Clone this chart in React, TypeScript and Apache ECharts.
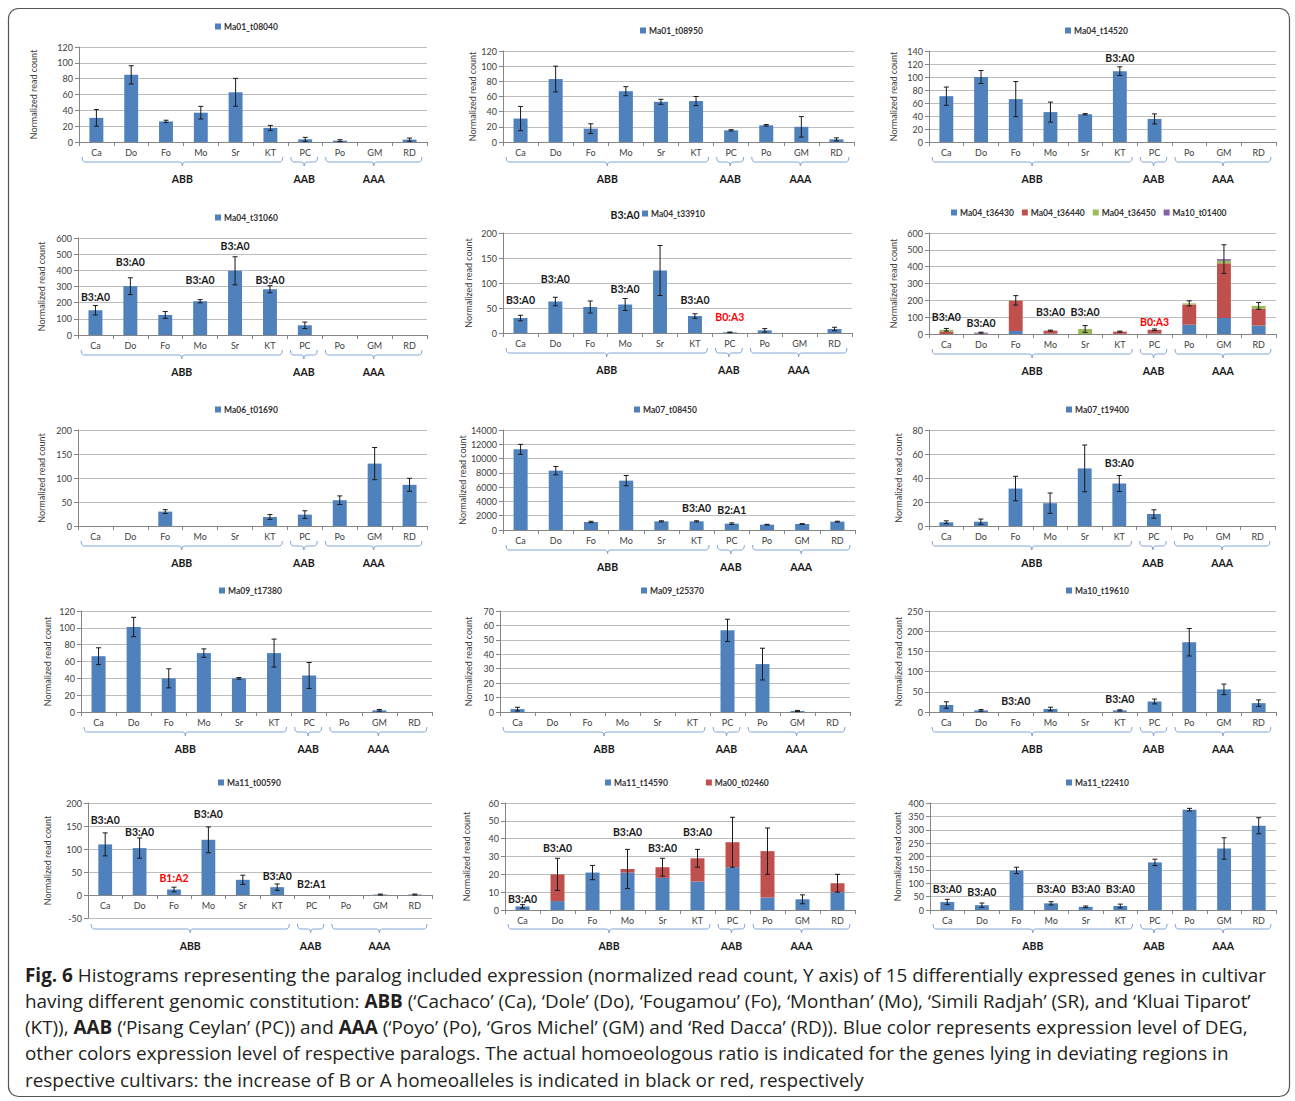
import React, { useEffect, useRef } from "react";
import * as echarts from "echarts";

// Cultivars on every x axis and their genomic groups
const cultivars = ["Ca", "Do", "Fo", "Mo", "Sr", "KT", "PC", "Po", "GM", "RD"];
const genomeGroups = [
  { name: "ABB", from: 0, to: 5 },
  { name: "AAB", from: 6, to: 6 },
  { name: "AAA", from: 7, to: 9 },
];
const yTitle = "Normalized read count";

// Mean normalized read counts and their error (±) per cultivar
const ma01_t08040 = [30.5, 84.8, 26, 37, 62.8, 17.8, 3.4, 1.7, 0, 3];
const ma01_t08040Err = [10.5, 11.5, 1.5, 8, 17.6, 3.2, 2.5, 1.2, 0, 2];

const ma01_t08950 = [30.9, 83, 17.6, 67, 53, 54, 15.4, 22, 20, 3.5];
const ma01_t08950Err = [16, 17, 6.4, 6, 3.3, 6, 0.8, 1, 13.5, 2];

const ma04_t14520 = [70.5, 100, 66, 46, 42.7, 109, 35.5, 0, 0, 0];
const ma04_t14520Err = [14, 10, 27, 15.4, 1, 6.7, 7.7, 0, 0, 0];
const ma04_t14520Notes = [["KT", "B3:A0", 129]];

const ma04_t31060 = [153, 302, 124, 209, 397, 283, 60, 0, 0, 0];
const ma04_t31060Err = [29, 52, 21, 10, 87, 22, 20, 0, 0, 0];
const ma04_t31060Notes = [
  ["Ca", "B3:A0", 235],
  ["Do", "B3:A0", 451],
  ["Mo", "B3:A0", 340],
  ["Sr", "B3:A0", 550],
  ["KT", "B3:A0", 340],
];

const ma04_t33910 = [30, 63, 52, 57, 125, 34, 1.3, 5.3, 0, 8];
const ma04_t33910Err = [5.5, 8.5, 12, 12, 50, 4.5, 0.7, 3.5, 0, 3.5];
const ma04_t33910Notes = [
  ["Ca", "B3:A0", 66],
  ["Do", "B3:A0", 108],
  ["Mo", "B3:A0", 88],
  ["KT", "B3:A0", 66],
  ["PC", "B0:A3", 32],
  ["Mo", "B3:A0", 236],
];

// Stacked paralogs
const ma04_t36430 = [0, 0, 18, 2, 0, 1, 3, 55, 95, 50];
const ma04_t36440 = [15, 2, 180, 18, 0, 13, 22, 120, 325, 100];
const ma04_t36450 = [10, 0, 2, 0, 30, 0, 0, 7, 15, 17];
const ma10_t01400 = [0, 6, 0, 0, 0, 0, 0, 0, 10, 0];
const ma04_t364Err = [8, 3, 28, 3, 20, 3, 5, 15, 85, 20];
const ma04_t364Notes = [
  ["Ca", "B3:A0", 101],
  ["Do", "B3:A0", 65],
  ["Mo", "B3:A0", 131],
  ["Sr", "B3:A0", 131],
  ["PC", "B0:A3", 71],
];

const ma06_t01690 = [0, 0, 30, 0, 0, 18.8, 23.7, 53.7, 130, 85.7];
const ma06_t01690Err = [0, 0, 4, 0, 0, 5, 8, 9, 33.5, 13.6];

const ma07_t08450 = [11290, 8310, 1120, 6910, 1210, 1210, 890, 750, 840, 1170];
const ma07_t08450Err = [700, 585, 100, 720, 80, 80, 110, 50, 50, 60];
const ma07_t08450Notes = [
  ["KT", "B3:A0", 3080],
  ["PC", "B2:A1", 2800],
];

const ma07_t19400 = [3.1, 3.6, 31.2, 19, 48, 35.4, 10, 0, 0, 0];
const ma07_t19400Err = [1.2, 2.2, 10.2, 8.5, 19.5, 6.7, 3.5, 0, 0, 0];
const ma07_t19400Notes = [["KT", "B3:A0", 52.5]];

const ma09_t17380 = [66.3, 101, 40, 70, 40, 70, 43.4, 0, 2, 0];
const ma09_t17380Err = [10, 11.5, 11.3, 5, 1, 16.6, 15.4, 0, 1, 0];

const ma09_t25370 = [2, 0, 0, 0, 0, 0, 56.6, 33.2, 0.7, 0];
const ma09_t25370Err = [1.3, 0, 0, 0, 0, 0, 7.7, 11, 0.4, 0];

const ma10_t19610 = [17.3, 4, 0, 7.4, 0, 4, 26, 172.7, 56, 22];
const ma10_t19610Err = [8, 2, 0, 4.5, 0, 1.5, 6, 34, 13, 8];
const ma10_t19610Notes = [
  ["Fo", "B3:A0", 27],
  ["KT", "B3:A0", 32],
];

const ma11_t00590 = [110, 102, 12, 120, 33, 17, 0, 0, 1, 1];
const ma11_t00590Err = [25, 22, 5, 28, 10, 7, 0, 0, 1, 1];
const ma11_t00590Notes = [
  ["Ca", "B3:A0", 163],
  ["Do", "B3:A0", 137],
  ["Fo", "B1:A2", 37],
  ["Mo", "B3:A0", 176],
  ["KT", "B3:A0", 41],
  ["PC", "B2:A1", 24],
];

const ma11_t14590 = [2, 5, 21, 21, 18, 16, 24, 7, 6, 10];
const ma00_t02460 = [0, 15, 0, 2, 6, 13, 14, 26, 0, 5];
const ma11_t14590Err = [1, 9, 4, 11, 5, 5, 14, 13, 2.5, 5];
const ma11_t14590Notes = [
  ["Ca", "B3:A0", 6],
  ["Do", "B3:A0", 35],
  ["Mo", "B3:A0", 44],
  ["Sr", "B3:A0", 35],
  ["KT", "B3:A0", 44],
];

const ma11_t22410 = [30, 18, 148, 25, 12, 15, 178, 375, 230, 315];
const ma11_t22410Err = [10, 8, 12, 6, 3, 7, 12, 5, 40, 30];
const ma11_t22410Notes = [
  ["Ca", "B3:A0", 78],
  ["Do", "B3:A0", 67],
  ["Mo", "B3:A0", 78],
  ["Sr", "B3:A0", 78],
  ["KT", "B3:A0", 78],
];

// Y axis ranges: [min, max, step]
const yRanges = [
  [0, 120, 20], [0, 120, 20], [0, 140, 20],
  [0, 600, 100], [0, 200, 50], [0, 600, 100],
  [0, 200, 50], [0, 14000, 2000], [0, 80, 20],
  [0, 120, 20], [0, 70, 10], [0, 250, 50],
  [-50, 200, 50], [0, 60, 10], [0, 400, 50],
];

type Gene = [string, number[]];
type Panel = { genes: Gene[]; err: number[]; notes: (string | number)[][] };

const panels: Panel[] = [
  { genes: [["Ma01_t08040", ma01_t08040]], err: ma01_t08040Err, notes: [] },
  { genes: [["Ma01_t08950", ma01_t08950]], err: ma01_t08950Err, notes: [] },
  { genes: [["Ma04_t14520", ma04_t14520]], err: ma04_t14520Err, notes: ma04_t14520Notes },
  { genes: [["Ma04_t31060", ma04_t31060]], err: ma04_t31060Err, notes: ma04_t31060Notes },
  { genes: [["Ma04_t33910", ma04_t33910]], err: ma04_t33910Err, notes: ma04_t33910Notes },
  {
    genes: [
      ["Ma04_t36430", ma04_t36430],
      ["Ma04_t36440", ma04_t36440],
      ["Ma04_t36450", ma04_t36450],
      ["Ma10_t01400", ma10_t01400],
    ],
    err: ma04_t364Err,
    notes: ma04_t364Notes,
  },
  { genes: [["Ma06_t01690", ma06_t01690]], err: ma06_t01690Err, notes: [] },
  { genes: [["Ma07_t08450", ma07_t08450]], err: ma07_t08450Err, notes: ma07_t08450Notes },
  { genes: [["Ma07_t19400", ma07_t19400]], err: ma07_t19400Err, notes: ma07_t19400Notes },
  { genes: [["Ma09_t17380", ma09_t17380]], err: ma09_t17380Err, notes: [] },
  { genes: [["Ma09_t25370", ma09_t25370]], err: ma09_t25370Err, notes: [] },
  { genes: [["Ma10_t19610", ma10_t19610]], err: ma10_t19610Err, notes: ma10_t19610Notes },
  { genes: [["Ma11_t00590", ma11_t00590]], err: ma11_t00590Err, notes: ma11_t00590Notes },
  {
    genes: [
      ["Ma11_t14590", ma11_t14590],
      ["Ma00_t02460", ma00_t02460],
    ],
    err: ma11_t14590Err,
    notes: ma11_t14590Notes,
  },
  { genes: [["Ma11_t22410", ma11_t22410]], err: ma11_t22410Err, notes: ma11_t22410Notes },
];

// Layout: plot box [left, top, right, bottom], legend [left, centerY, gap],
// axis-title distance, brace offset below the plot box
const plotBoxes = [
  [79, 47, 427, 142], [503, 51, 854, 142], [929, 51, 1276, 142],
  [78, 238, 427, 335], [503, 233, 852, 333], [929, 233, 1276, 334],
  [78, 430, 427, 526], [503, 430, 855, 530], [929, 430, 1275, 526],
  [81, 611, 432, 712], [500, 611, 850, 712], [929, 611, 1276, 712],
  [88, 803, 432, 918], [505, 803, 855, 910], [930, 803, 1276, 910],
];
const legendPos = [
  [215, 28, 8], [640, 32, 8], [1065, 32, 8],
  [215, 219, 8], [642, 215, 8], [951, 214, 8],
  [215, 411, 8], [634, 411, 8], [1066, 411, 8],
  [219, 592, 8], [641, 592, 8], [1066, 592, 8],
  [218, 784, 8], [605, 784, 38], [1066, 784, 8],
];
const titleGaps = [41, 26, 31, 32, 30, 31, 32, 35, 26, 29, 27, 26, 36, 34, 28];
const braceOffsets = [15, 15, 15, 15, 15, 15, 15, 15, 15, 15, 15, 15, 6, 14, 14];

const geneColors = ["#4f81bd", "#c0504d", "#9bbb59", "#8064a2"];
const chartFont = "Lato, 'Open Sans', sans-serif";
const captionFont = "'Open Sans', 'Noto Sans', sans-serif";
const textColor = "#404040";
const axisColor = "#868686";
const braceColor = "#7fa6d8";

const captionLines = [
  "{b|Fig. 6} Histograms representing the paralog included expression (normalized read count, Y axis) of 15 differentially expressed genes in cultivar",
  "having different genomic constitution: {b|ABB} (‘Cachaco’ (Ca), ‘Dole’ (Do), ‘Fougamou’ (Fo), ‘Monthan’ (Mo), ‘Simili Radjah’ (SR), and ‘Kluai Tiparot’",
  "(KT)), {b|AAB} (‘Pisang Ceylan’ (PC)) and {b|AAA} (‘Poyo’ (Po), ‘Gros Michel’ (GM) and ‘Red Dacca’ (RD)). Blue color represents expression level of DEG,",
  "other colors expression level of respective paralogs. The actual homoeologous ratio is indicated for the genes lying in deviating regions in",
  "respective cultivars: the increase of B or A homeoalleles is indicated in black or red, respectively",
];

function ratioColor(text: string) {
  const m = /B(\d):A(\d)/.exec(text);
  return m && Number(m[2]) > Number(m[1]) ? "#ff0000" : "#1a1a1a";
}

function buildOption() {
  const grid: any[] = [];
  const xAxis: any[] = [];
  const yAxis: any[] = [];
  const legend: any[] = [];
  const series: any[] = [];

  panels.forEach((p, i) => {
    const [l, t, r, b] = plotBoxes[i];
    const [yMin, yMax, yStep] = yRanges[i];
    grid.push({ left: l, top: t, width: r - l, height: b - t });
    // category axis sits on the zero line when the range dips below zero
    const zeroShift = yMin < 0 ? -((b - t) * (0 - yMin)) / (yMax - yMin) : 0;
    xAxis.push({
      gridIndex: i,
      type: "category",
      data: cultivars,
      offset: zeroShift,
      axisLine: { onZero: false, lineStyle: { color: axisColor, width: 1 } },
      axisTick: { show: true, length: 4, lineStyle: { color: axisColor } },
      axisLabel: { interval: 0, margin: 6, fontSize: 9, color: textColor, fontFamily: chartFont },
      splitLine: { show: false },
    });
    yAxis.push({
      gridIndex: i,
      type: "value",
      min: yMin,
      max: yMax,
      interval: yStep,
      name: yTitle,
      nameLocation: "middle",
      nameRotate: 90,
      nameGap: titleGaps[i],
      nameTextStyle: { fontSize: 9, color: textColor, fontFamily: chartFont },
      axisLine: { show: true, onZero: false, lineStyle: { color: axisColor, width: 1 } },
      axisTick: { show: true, length: 4, lineStyle: { color: axisColor } },
      axisLabel: {
        margin: 6,
        fontSize: 9,
        color: textColor,
        fontFamily: chartFont,
        formatter: (v: number) => String(v),
      },
      splitLine: { show: true, lineStyle: { color: "#bdbdbd", width: 1 } },
    });
    const [lx, ly, lg] = legendPos[i];
    legend.push({
      data: p.genes.map((g) => g[0]),
      left: lx,
      top: ly - 6,
      padding: 0,
      itemGap: lg,
      itemWidth: 6,
      itemHeight: 6,
      icon: "rect",
      selectedMode: false,
      textStyle: { fontSize: 8.5, fontWeight: "bold", color: "#333", fontFamily: chartFont, padding: [0, 0, 0, -2] },
    });

    const stacked = p.genes.length > 1;
    p.genes.forEach(([name, vals], k) => {
      series.push({
        type: "bar",
        name,
        xAxisIndex: i,
        yAxisIndex: i,
        data: vals,
        stack: stacked ? "stack" + i : undefined,
        barWidth: "40%",
        itemStyle: { color: geneColors[k] },
        emphasis: { disabled: true },
        z: 2,
      });
    });

    // error bars at the top of each (stacked) bar
    const totals = cultivars.map((_, c) => p.genes.reduce((s, g) => s + g[1][c], 0));
    series.push({
      type: "custom",
      xAxisIndex: i,
      yAxisIndex: i,
      z: 5,
      silent: true,
      data: totals.map((v, c) => [c, v, p.err[c]]),
      renderItem: (params: any, api: any) => {
        const e = api.value(2);
        if (!e) return null;
        const x = api.value(0);
        const v = api.value(1);
        const hi = api.coord([x, v + e]);
        const lo = api.coord([x, v - e]);
        const cap = 2.5;
        const style = { stroke: "#1a1a1a", lineWidth: 1 };
        return {
          type: "group",
          children: [
            { type: "line", shape: { x1: hi[0], y1: hi[1], x2: lo[0], y2: lo[1] }, style },
            { type: "line", shape: { x1: hi[0] - cap, y1: hi[1], x2: hi[0] + cap, y2: hi[1] }, style },
            { type: "line", shape: { x1: lo[0] - cap, y1: lo[1], x2: lo[0] + cap, y2: lo[1] }, style },
          ],
        };
      },
    });

    // homoeologous ratio labels
    if (p.notes.length) {
      series.push({
        type: "custom",
        xAxisIndex: i,
        yAxisIndex: i,
        z: 6,
        silent: true,
        clip: false,
        data: p.notes.map((n) => [cultivars.indexOf(n[0] as string), n[2] as number]),
        renderItem: (params: any, api: any) => {
          const n = p.notes[params.dataIndex];
          const pt = api.coord([api.value(0), api.value(1)]);
          const text = n[1] as string;
          return {
            type: "text",
            style: {
              text,
              x: pt[0],
              y: pt[1],
              align: "center",
              verticalAlign: "middle",
              fill: ratioColor(text),
              fontSize: 10.5,
              fontWeight: "bold",
              fontFamily: chartFont,
            },
          };
        },
      });
    }

    // genome-group braces with their labels
    const offset = braceOffsets[i];
    series.push({
      type: "custom",
      xAxisIndex: i,
      yAxisIndex: i,
      z: 3,
      silent: true,
      clip: false,
      data: genomeGroups.map((g) => [g.from, g.to]),
      renderItem: (params: any, api: any) => {
        const g = genomeGroups[params.dataIndex];
        const cs = params.coordSys;
        const T = cs.y + cs.height + offset;
        const w = api.size([1, 0])[0];
        const x1 = api.coord([g.from, yMin])[0] - w / 2 + 3;
        const x2 = api.coord([g.to, yMin])[0] + w / 2 - 5;
        const cx = (x1 + x2) / 2;
        return {
          type: "group",
          children: [
            {
              type: "polyline",
              shape: {
                points: [
                  [x1, T], [x1 + 0.6, T + 3.5], [x1 + 2.5, T + 5], [cx - 2.5, T + 5],
                  [cx - 0.5, T + 6], [cx, T + 9], [cx + 0.5, T + 6], [cx + 2.5, T + 5],
                  [x2 - 2.5, T + 5], [x2 - 0.6, T + 3.5], [x2, T],
                ],
              },
              style: { stroke: braceColor, lineWidth: 1, fill: null },
            },
            {
              type: "text",
              style: {
                text: g.name,
                x: cx,
                y: T + 22,
                align: "center",
                verticalAlign: "middle",
                fill: "#1a1a1a",
                fontSize: 10.5,
                fontWeight: "bold",
                fontFamily: chartFont,
              },
            },
          ],
        };
      },
    });
  });

  const graphic: any[] = [
    {
      type: "rect",
      shape: { x: 8.5, y: 8.5, width: 1281, height: 1088, r: 10 },
      style: { fill: "none", stroke: "#555", lineWidth: 1.2 },
      silent: true,
    },
    ...captionLines.map((line, k) => ({
      type: "text",
      left: 25,
      top: 965 + k * 26.3,
      silent: true,
      style: {
        text: line,
        fontSize: 18.9,
        fontFamily: captionFont,
        fill: "#231f20",
        rich: { b: { fontSize: 18.9, fontWeight: "bold", fontFamily: captionFont, fill: "#231f20" } },
      },
    })),
  ];

  return { animation: false, backgroundColor: "#ffffff", grid, xAxis, yAxis, legend, series, graphic };
}

export default function App() {
  const ref = useRef<HTMLDivElement>(null);
  useEffect(() => {
    document.body.style.margin = "0";
    if (!ref.current) return;
    const chart = echarts.init(ref.current, undefined, { renderer: "svg" });
    chart.setOption(buildOption() as any);
    return () => chart.dispose();
  }, []);
  return <div ref={ref} style={{ width: 1295, height: 1101 }} />;
}
